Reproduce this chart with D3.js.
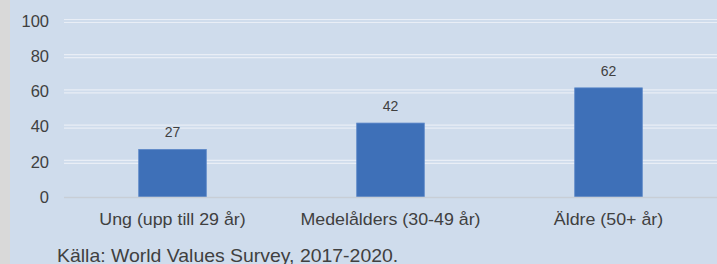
<!DOCTYPE html>
<html>
<head>
<meta charset="utf-8">
<script src="https://cdn.jsdelivr.net/npm/d3@7"></script>
<style>
  body { margin: 0; background: #cfdcec; }
  svg { display: block; }
  text { font-family: "Liberation Sans", Arial, sans-serif; fill: #404040; }
</style>
</head>
<body>
<svg width="717" height="264"></svg>
<script>
// data
var categories = ['Ung (upp till 29 år)', 'Medelålders (30-49 år)', 'Äldre (50+ år)'];
var values = [27, 42, 62];
var yTicks = [0, 20, 40, 60, 80, 100];
var source = 'Källa: World Values Survey, 2017-2020.';

var svg = d3.select('svg');

// background + grey left border
svg.append('rect').attr('width', 717).attr('height', 264).style('fill', '#cfdcec');
svg.append('rect').attr('width', 10).attr('height', 264).style('fill', '#d9d9d9');

var x = d3.scaleBand()
  .domain(categories)
  .range([63.5, 717.5])
  .paddingInner(0.69)
  .paddingOuter(0.345);

var y = d3.scaleLinear()
  .domain([0, 100])
  .range([197, 21]);

// gridlines (double lines)
var gridVals = yTicks.filter(function(d) { return d > 0; });
[-1.5, 1.5].forEach(function(off) {
  svg.append('g').selectAll('line')
    .data(gridVals)
    .enter()
    .append('line')
    .attr('x1', 64).attr('x2', 717)
    .attr('y1', function(d) { return y(d) + off; })
    .attr('y2', function(d) { return y(d) + off; })
    .style('stroke', '#e9eef6').style('stroke-width', 1.2);
});

// y axis labels
var yAxis = d3.axisLeft(y).tickValues(yTicks).tickSize(0).tickPadding(0);
var ya = svg.append('g')
  .attr('transform', 'translate(49,0)')
  .call(yAxis);
ya.select('.domain').remove();
ya.selectAll('text')
  .style('font-size', '16.5px')
  .style('fill', '#404040')
  .style('font-family', '"Liberation Sans", Arial, sans-serif');

// bars
svg.selectAll('.bar')
  .data(values)
  .enter()
  .append('rect')
  .attr('class', 'bar')
  .attr('x', function(d, i) { return x(categories[i]); })
  .attr('y', function(d) { return y(d); })
  .attr('width', x.bandwidth())
  .attr('height', function(d) { return y(0) - y(d); })
  .style('fill', '#3e70b8')
  .style('stroke', '#5b87c8')
  .style('stroke-width', 0.8);

// zero line
svg.append('line')
  .attr('x1', 64).attr('x2', 717)
  .attr('y1', y(0) + 0.5).attr('y2', y(0) + 0.5)
  .style('stroke', '#c8ced6').style('stroke-width', 1.5);

// value labels
svg.selectAll('.val')
  .data(values)
  .enter()
  .append('text')
  .attr('x', function(d, i) { return x(categories[i]) + x.bandwidth() / 2; })
  .attr('y', function(d) { return y(d) - 12; })
  .attr('text-anchor', 'middle')
  .style('font-size', '14px')
  .text(function(d) { return d; });

// x axis labels
svg.selectAll('.cat')
  .data(categories)
  .enter()
  .append('text')
  .attr('class', 'cat')
  .attr('text-anchor', 'middle')
  .attr('transform', function(d) {
    return 'translate(' + (x(d) + x.bandwidth() / 2) + ',225) scale(1.08,1)';
  })
  .style('font-size', '16.5px')
  .text(function(d) { return d; });

// source
svg.append('text')
  .attr('transform', 'translate(57,262) scale(1.08,1)')
  .style('font-size', '18px')
  .text(source);
</script>
</body>
</html>
